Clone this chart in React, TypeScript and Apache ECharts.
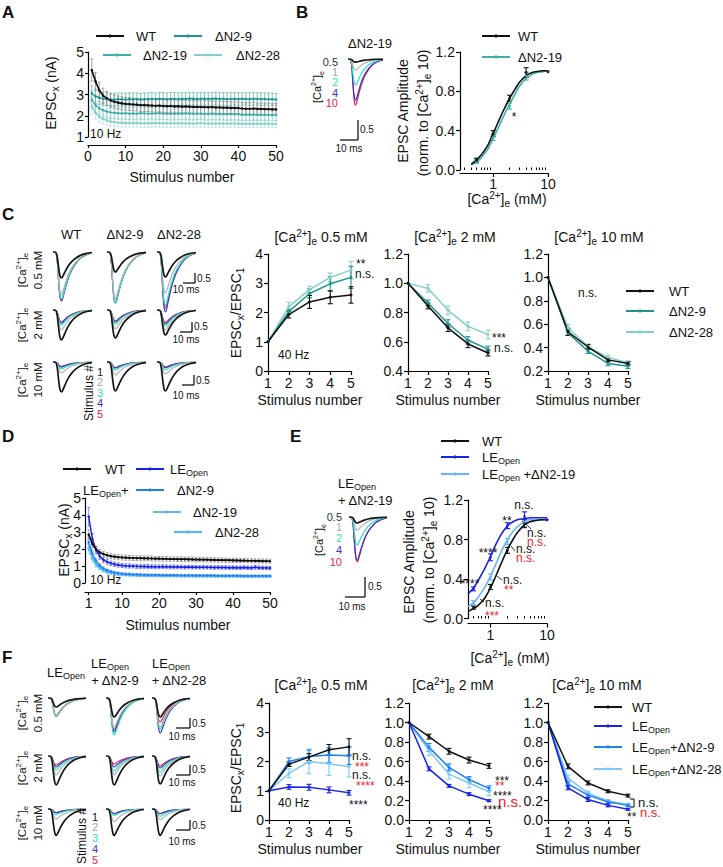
import React, { useEffect, useRef } from "react";
import * as echarts from "echarts";

const FONT = '"Liberation Sans", Arial, Helvetica, sans-serif';

// ---------------- Panel A : 10 Hz trains (nA) ----------------
const STIM50 = Array.from({ length: 50 }, (_, i) => i + 1);
const A_WT = [4.15,3.62,3.2,2.95,2.82,2.72,2.66,2.62,2.58,2.56, 2.55,2.53,2.52,2.5,2.5,2.49,2.48,2.47,2.48,2.46, 2.45,2.46,2.44,2.45,2.43,2.44,2.43,2.42,2.42,2.41, 2.41,2.4,2.41,2.39,2.39,2.38,2.38,2.37,2.37,2.36, 2.34,2.33,2.33,2.34,2.32,2.32,2.31,2.31,2.3,2.3];
const A_WT_ERR = [0.52,0.42,0.38,0.35,0.33,0.32,0.32,0.31,0.31,0.3, 0.3,0.3,0.29,0.3,0.3,0.29,0.3,0.3,0.29,0.3, 0.3,0.29,0.3,0.3,0.29,0.3,0.29,0.3,0.29,0.29, 0.3,0.29,0.29,0.3,0.29,0.29,0.28,0.29,0.29,0.28, 0.29,0.28,0.28,0.29,0.28,0.28,0.28,0.28,0.27,0.28];
const A_N9 = [3.05,2.92,2.85,2.8,2.78,2.77,2.76,2.78,2.77,2.76, 2.78,2.77,2.78,2.76,2.77,2.78,2.79,2.78,2.8,2.79, 2.78,2.8,2.79,2.78,2.8,2.79,2.81,2.8,2.79,2.8, 2.8,2.79,2.8,2.81,2.79,2.8,2.78,2.79,2.8,2.78, 2.8,2.79,2.78,2.8,2.79,2.78,2.79,2.77,2.78,2.76];
const A_N9_ERR = [0.35,0.33,0.31,0.3,0.3,0.29,0.3,0.29,0.3,0.3, 0.29,0.3,0.3,0.29,0.3,0.3,0.3,0.29,0.3,0.3, 0.29,0.3,0.3,0.3,0.29,0.3,0.3,0.3,0.29,0.3, 0.3,0.29,0.3,0.3,0.3,0.29,0.3,0.3,0.29,0.3, 0.3,0.29,0.3,0.3,0.29,0.3,0.29,0.3,0.29,0.29];
const A_N19 = [2.75,2.5,2.35,2.26,2.2,2.16,2.14,2.12,2.11,2.12, 2.1,2.11,2.1,2.12,2.11,2.1,2.1,2.11,2.12,2.1, 2.11,2.1,2.09,2.1,2.1,2.11,2.1,2.09,2.1,2.1, 2.08,2.09,2.1,2.08,2.09,2.08,2.07,2.08,2.08,2.07, 2.05,2.06,2.05,2.06,2.05,2.04,2.05,2.04,2.03,2.04];
const A_N19_ERR = [0.4,0.36,0.33,0.31,0.3,0.3,0.29,0.29,0.3,0.29, 0.29,0.3,0.29,0.29,0.3,0.29,0.29,0.3,0.29,0.29, 0.29,0.3,0.29,0.29,0.29,0.3,0.29,0.29,0.29,0.29, 0.28,0.29,0.29,0.28,0.29,0.28,0.28,0.29,0.28,0.28, 0.28,0.28,0.28,0.27,0.28,0.28,0.27,0.28,0.27,0.27];
const A_N28 = [2.45,2.15,1.95,1.85,1.78,1.73,1.7,1.68,1.67,1.66, 1.66,1.65,1.66,1.65,1.64,1.65,1.65,1.66,1.65,1.64, 1.65,1.64,1.65,1.64,1.65,1.64,1.64,1.63,1.64,1.65, 1.64,1.63,1.64,1.64,1.63,1.64,1.63,1.63,1.64,1.63, 1.62,1.63,1.62,1.63,1.62,1.62,1.63,1.62,1.62,1.61];
const A_N28_ERR = [0.38,0.3,0.26,0.24,0.22,0.21,0.21,0.2,0.2,0.2, 0.2,0.19,0.2,0.2,0.19,0.2,0.2,0.19,0.2,0.19, 0.2,0.19,0.2,0.19,0.19,0.2,0.19,0.19,0.2,0.19, 0.19,0.19,0.19,0.18,0.19,0.19,0.18,0.19,0.18,0.19, 0.18,0.18,0.18,0.18,0.18,0.18,0.18,0.17,0.18,0.18];

// ---------------- Panel B : Ca dependence ----------------
const B_CONC = [0.5, 1, 2, 4, 10];
const B_WT = [0.1, 0.37, 0.73, 0.99, 1.0];
const B_WT_ERR = [0.02, 0.03, 0.03, 0.05, 0];
const B_N19 = [0.09, 0.33, 0.65, 0.955, 1.0];
const B_N19_ERR = [0.02, 0.03, 0.03, 0.04, 0];
const B_FIT_X = [0.4, 0.5, 0.6, 0.7, 0.8, 1, 1.2, 1.5, 2, 2.5, 3, 4, 5, 6, 8, 10];
const B_FIT_WT = [0.06, 0.1, 0.15, 0.2, 0.25, 0.37, 0.47, 0.59, 0.73, 0.82, 0.89, 0.96, 0.99, 1.0, 1.01, 1.01];
const B_FIT_N19 = [0.05, 0.08, 0.12, 0.17, 0.21, 0.32, 0.41, 0.53, 0.67, 0.77, 0.85, 0.93, 0.97, 0.99, 1.0, 1.01];
const B_TRACE_AMP = [0.08, 0.28, 0.65, 1.03, 1.15];

// ---------------- Panel C : 40 Hz, 5 pulses ----------------
const X5 = [1, 2, 3, 4, 5];
const C05_WT = [1, 1.93, 2.36, 2.52, 2.6];
const C05_WT_ERR = [0, 0.12, 0.22, 0.22, 0.28];
const C05_N9 = [1, 2.03, 2.65, 2.98, 3.2];
const C05_N9_ERR = [0, 0.08, 0.15, 0.25, 0.38];
const C05_N28 = [1, 2.2, 2.78, 3.2, 3.45];
const C05_N28_ERR = [0, 0.15, 0.12, 0.15, 0.3];
const C2_WT = [1, 0.845, 0.695, 0.585, 0.523];
const C2_WT_ERR = [0, 0.02, 0.025, 0.025, 0.02];
const C2_N9 = [1, 0.865, 0.725, 0.61, 0.55];
const C2_N9_ERR = [0, 0.02, 0.025, 0.025, 0.02];
const C2_N28 = [1, 0.965, 0.815, 0.705, 0.65];
const C2_N28_ERR = [0, 0.025, 0.03, 0.03, 0.03];
const C10_WT = [1, 0.535, 0.405, 0.295, 0.265];
const C10_WT_ERR = [0, 0.03, 0.02, 0.015, 0.015];
const C10_N9 = [1, 0.525, 0.37, 0.265, 0.24];
const C10_N9_ERR = [0, 0.02, 0.02, 0.02, 0.02];
const C10_N28 = [1, 0.57, 0.41, 0.315, 0.27];
const C10_N28_ERR = [0, 0.03, 0.02, 0.02, 0.015];
// trace peak amplitudes (nA), rows = 0.5 / 2 / 10 mM, cols = WT / ΔN2-9 / ΔN2-28, stim 1..5
const C_TRACES = [
  [[1.3, 2.1, 2.35, 2.4, 2.45], [1.0, 2.3, 2.55, 2.5, 2.55], [1.25, 2.05, 2.65, 3.0, 2.8]],
  [[1.5, 1.0, 0.75, 0.65, 0.6], [1.4, 0.95, 0.7, 0.6, 0.55], [1.25, 1.0, 0.8, 0.7, 0.62]],
  [[1.5, 0.55, 0.35, 0.25, 0.22], [1.45, 0.65, 0.4, 0.3, 0.28], [1.45, 0.6, 0.38, 0.28, 0.25]],
];

// ---------------- Panel D : 10 Hz trains, LE_Open ----------------
const D_WT = [2.85,2.3,1.98,1.8,1.7,1.63,1.58,1.55,1.52,1.5, 1.49,1.48,1.47,1.46,1.46,1.45,1.45,1.44,1.43,1.43, 1.42,1.42,1.41,1.41,1.4,1.4,1.4,1.39,1.39,1.38, 1.38,1.37,1.37,1.36,1.36,1.35,1.35,1.34,1.34,1.33, 1.33,1.32,1.32,1.31,1.31,1.3,1.3,1.29,1.29,1.28];
const D_WT_ERR = [0.3,0.22,0.19,0.17,0.16,0.16,0.15,0.15,0.15,0.15, 0.15,0.14,0.15,0.14,0.15,0.14,0.14,0.15,0.14,0.14, 0.14,0.14,0.14,0.13,0.14,0.14,0.13,0.14,0.13,0.14, 0.13,0.13,0.14,0.13,0.13,0.13,0.13,0.13,0.12,0.13, 0.13,0.12,0.13,0.12,0.12,0.12,0.12,0.12,0.12,0.12];
const D_LE = [3.9,2.6,1.92,1.56,1.36,1.24,1.16,1.1,1.06,1.03, 1.01,1.0,0.99,0.98,0.97,0.97,0.96,0.96,0.95,0.95, 0.96,0.95,0.94,0.95,0.94,0.94,0.93,0.94,0.93,0.93, 0.92,0.93,0.92,0.92,0.91,0.92,0.91,0.91,0.9,0.91, 0.9,0.9,0.91,0.9,0.89,0.93,0.9,0.89,0.89,0.88];
const D_LE_ERR = [0.55,0.32,0.22,0.17,0.15,0.14,0.13,0.13,0.12,0.12, 0.12,0.12,0.11,0.12,0.11,0.11,0.12,0.11,0.11,0.11, 0.11,0.11,0.11,0.11,0.1,0.11,0.11,0.1,0.11,0.1, 0.1,0.11,0.1,0.1,0.1,0.1,0.1,0.1,0.1,0.1, 0.1,0.1,0.1,0.1,0.1,0.12,0.1,0.1,0.1,0.1];
const D_N9 = [2.4,1.72,1.3,1.02,0.85,0.74,0.67,0.62,0.58,0.55, 0.53,0.52,0.5,0.5,0.49,0.48,0.48,0.47,0.47,0.47, 0.46,0.46,0.46,0.46,0.45,0.45,0.45,0.45,0.45,0.44, 0.44,0.44,0.44,0.44,0.44,0.43,0.43,0.43,0.43,0.43, 0.43,0.43,0.42,0.42,0.42,0.42,0.42,0.42,0.42,0.42];
const D_N9_ERR = [0.3,0.2,0.15,0.12,0.1,0.09,0.08,0.08,0.07,0.07, 0.07,0.07,0.06,0.06,0.06,0.06,0.06,0.06,0.06,0.06, 0.06,0.06,0.06,0.06,0.06,0.06,0.05,0.06,0.05,0.06, 0.05,0.05,0.06,0.05,0.05,0.05,0.05,0.05,0.05,0.05, 0.05,0.05,0.05,0.05,0.05,0.05,0.05,0.05,0.05,0.05];
const D_N19 = [2.3,1.6,1.18,0.93,0.78,0.68,0.61,0.56,0.53,0.5, 0.49,0.47,0.46,0.45,0.45,0.44,0.44,0.43,0.43,0.43, 0.42,0.42,0.42,0.42,0.42,0.41,0.41,0.41,0.41,0.41, 0.41,0.4,0.4,0.4,0.4,0.4,0.4,0.4,0.4,0.4, 0.39,0.39,0.39,0.39,0.39,0.39,0.39,0.39,0.39,0.39];
const D_N19_ERR = [0.35,0.22,0.16,0.12,0.1,0.09,0.08,0.07,0.07,0.07, 0.06,0.06,0.06,0.06,0.06,0.06,0.06,0.06,0.06,0.06, 0.06,0.06,0.05,0.06,0.05,0.06,0.05,0.05,0.05,0.05, 0.05,0.05,0.05,0.05,0.05,0.05,0.05,0.05,0.05,0.05, 0.05,0.05,0.05,0.05,0.05,0.05,0.05,0.05,0.05,0.05];
const D_N28 = [2.0,1.42,1.06,0.86,0.73,0.64,0.58,0.54,0.51,0.49, 0.47,0.46,0.45,0.44,0.44,0.43,0.43,0.42,0.42,0.42, 0.41,0.41,0.41,0.41,0.41,0.4,0.4,0.4,0.4,0.4, 0.4,0.4,0.39,0.39,0.39,0.39,0.39,0.39,0.39,0.39, 0.38,0.38,0.38,0.38,0.38,0.38,0.38,0.38,0.38,0.38];
const D_N28_ERR = [0.3,0.2,0.14,0.11,0.09,0.08,0.07,0.07,0.06,0.06, 0.06,0.06,0.06,0.05,0.06,0.05,0.05,0.05,0.05,0.05, 0.05,0.05,0.05,0.05,0.05,0.05,0.05,0.05,0.05,0.05, 0.05,0.05,0.05,0.05,0.05,0.05,0.05,0.05,0.05,0.05, 0.05,0.05,0.05,0.05,0.05,0.05,0.05,0.05,0.05,0.05];

// ---------------- Panel E : Ca dependence, LE_Open ----------------
const E_CONC = [0.5, 1, 2, 4, 10];
const E_WT = [0.11, 0.32, 0.69, 0.96, 1.0];
const E_WT_ERR = [0.015, 0.025, 0.03, 0.04, 0];
const E_LE = [0.3, 0.62, 0.94, 1.03, 1.0];
const E_LE_ERR = [0.02, 0.035, 0.03, 0.05, 0];
const E_N19 = [0.16, 0.42, 0.78, 0.97, 1.0];
const E_N19_ERR = [0.02, 0.03, 0.03, 0.04, 0];
const E_FIT_X = [0.4, 0.5, 0.6, 0.7, 0.8, 1, 1.2, 1.5, 2, 2.5, 3, 4, 5, 6, 8, 10];
const E_FIT_WT = [0.07, 0.1, 0.13, 0.17, 0.21, 0.31, 0.41, 0.54, 0.7, 0.8, 0.87, 0.95, 0.98, 0.99, 1.0, 1.0];
const E_FIT_LE = [0.25, 0.31, 0.38, 0.45, 0.51, 0.63, 0.73, 0.84, 0.94, 0.98, 1.0, 1.01, 1.02, 1.02, 1.02, 1.02];
const E_FIT_N19 = [0.12, 0.16, 0.21, 0.27, 0.32, 0.43, 0.53, 0.66, 0.8, 0.88, 0.93, 0.98, 1.0, 1.0, 1.0, 1.0];
const E_TRACE_AMP = [0.15, 0.33, 0.7, 1.08, 1.12];

// ---------------- Panel F : 40 Hz, LE_Open ----------------
const F05_WT = [1, 1.91, 2.15, 2.4, 2.5];
const F05_WT_ERR = [0, 0.08, 0.12, 0.18, 0.28];
const F05_LE = [1, 1.13, 1.12, 1.03, 0.93];
const F05_LE_ERR = [0, 0.08, 0.1, 0.1, 0.08];
const F05_N9 = [1, 2.0, 2.17, 2.22, 2.2];
const F05_N9_ERR = [0, 0.12, 0.22, 0.25, 0.3];
const F05_N28 = [1, 1.6, 2.0, 1.92, 1.82];
const F05_N28_ERR = [0, 0.15, 0.42, 0.4, 0.35];
const F2_WT = [1, 0.855, 0.705, 0.615, 0.555];
const F2_WT_ERR = [0, 0.025, 0.03, 0.03, 0.025];
const F2_LE = [1, 0.525, 0.35, 0.265, 0.198];
const F2_LE_ERR = [0, 0.02, 0.015, 0.015, 0.01];
const F2_N9 = [1, 0.745, 0.54, 0.415, 0.325];
const F2_N9_ERR = [0, 0.04, 0.035, 0.03, 0.025];
const F2_N28 = [1, 0.71, 0.47, 0.38, 0.29];
const F2_N28_ERR = [0, 0.05, 0.05, 0.05, 0.04];
const F10_WT = [1, 0.55, 0.38, 0.295, 0.25];
const F10_WT_ERR = [0, 0.025, 0.02, 0.015, 0.015];
const F10_LE = [1, 0.33, 0.21, 0.15, 0.11];
const F10_LE_ERR = [0, 0.02, 0.02, 0.015, 0.01];
const F10_N9 = [1, 0.37, 0.255, 0.185, 0.15];
const F10_N9_ERR = [0, 0.02, 0.02, 0.015, 0.012];
const F10_N28 = [1, 0.43, 0.275, 0.195, 0.16];
const F10_N28_ERR = [0, 0.03, 0.02, 0.015, 0.012];
const F_TRACES = [
  [[0.45, 0.95, 0.9, 0.88, 0.92], [0.95, 1.45, 1.85, 1.7, 1.6], [0.95, 1.45, 1.55, 1.75, 1.2]],
  [[1.45, 0.95, 0.7, 0.55, 0.45], [1.45, 0.95, 0.75, 0.55, 0.4], [1.4, 1.0, 0.8, 0.6, 0.5]],
  [[1.45, 0.55, 0.3, 0.2, 0.2], [1.45, 0.7, 0.35, 0.25, 0.25], [1.45, 0.6, 0.4, 0.25, 0.25]],
];

// normalised EPSC waveform (time 0..1, peak = -1)
const TRACE_T = [0, 0.05, 0.1, 0.14, 0.18, 0.22, 0.27, 0.33, 0.4, 0.48, 0.58, 0.7, 0.84, 1.0];
const TRACE_SHAPE = [0, 0, -0.12, -0.55, -0.92, -1, -0.88, -0.7, -0.52, -0.37, -0.24, -0.13, -0.06, -0.02];

const STIM_COLORS = ["#151515", "#b3b3b3", "#2ae3bd", "#3b36c4", "#e5235b"];
const COL = {
  wt: "#111111",
  n9: "#1e968d",
  n19: "#3eafa7",
  n28: "#86cfc9",
  le: "#1a22e8",
  le9: "#1f80f0",
  le19: "#66b6f6",
  le28: "#45bdf5",
  f28: "#7fc8f7",
  red: "#ec1c2a",
};

function buildOption() {
  const grids: any[] = [];
  const xAxes: any[] = [];
  const yAxes: any[] = [];
  const series: any[] = [];
  const legends: any[] = [];
  const G: any[] = [];

  const grid = (rect: any, xa: any, ya: any) => {
    const gi = grids.length;
    grids.push({ ...rect, containLabel: false });
    const xi = xAxes.length;
    xAxes.push({ gridIndex: gi, ...xa });
    const yi = yAxes.length;
    yAxes.push({ gridIndex: gi, ...ya });
    return { gi, xi, yi };
  };
  const axLine = { show: true, onZero: false, lineStyle: { color: "#000", width: 1.2 } };
  const vAx = (o: any) => ({
    type: "value",
    min: o.min,
    max: o.max,
    interval: o.interval,
    offset: o.offset || 0,
    axisLine: axLine,
    axisTick: { show: true, length: o.tick ?? 4, lineStyle: { color: "#000", width: 1.2 }, ...(o.tickValues ? { customValues: o.tickValues } : {}) },
    axisLabel: { show: true, color: "#111", fontSize: 14, fontFamily: FONT, margin: o.margin ?? 5, ...(o.fmt ? { formatter: o.fmt } : {}), ...(o.labelValues ? { customValues: o.labelValues } : {}) },
    splitLine: { show: false },
  });
  const logAx = (o: any) => ({
    type: "log",
    logBase: 10,
    min: o.min,
    max: o.max,
    offset: o.offset || 0,
    axisLine: axLine,
    axisTick: { show: true, length: 4, lineStyle: { color: "#000", width: 1.2 }, customValues: [1, 10] },
    axisLabel: { show: true, color: "#111", fontSize: 14, fontFamily: FONT, margin: 4, customValues: [1, 10], formatter: (v: number) => String(Math.round(v)) },
    splitLine: { show: false },
  });
  const minorLog = (gi: number, o: any) =>
    xAxes.push({
      gridIndex: gi, type: "log", logBase: 10, min: o.min, max: o.max, offset: o.offset || 0,
      axisLine: { show: false },
      axisTick: { show: true, length: 2.5, lineStyle: { color: "#000", width: 1 }, customValues: o.ticks },
      axisLabel: { show: false }, splitLine: { show: false },
    });
  const hidden = (min: number, max: number) => ({ type: "value", min, max, show: false });
  const fmt1 = (v: number) => v.toFixed(1);

  const errRender = (color: string, cap: number, lw: number) => (params: any, api: any) => {
    const x = api.value(0);
    const y = api.value(1);
    const e = api.value(2);
    if (!e) return { type: "group", children: [] };
    const p1 = api.coord([x, y + e]);
    const p2 = api.coord([x, y - e]);
    const st = { stroke: color, lineWidth: lw };
    return {
      type: "group",
      children: [
        { type: "line", shape: { x1: p1[0], y1: p1[1], x2: p2[0], y2: p2[1] }, style: st },
        { type: "line", shape: { x1: p1[0] - cap, y1: p1[1], x2: p1[0] + cap, y2: p1[1] }, style: st },
        { type: "line", shape: { x1: p2[0] - cap, y1: p2[1], x2: p2[0] + cap, y2: p2[1] }, style: st },
      ],
    };
  };
  const errS = (ax: any, xs: number[], ys: number[], es: number[], color: string, cap = 2.5, lw = 1.1) =>
    series.push({
      type: "custom", xAxisIndex: ax.xi, yAxisIndex: ax.yi,
      data: xs.map((x, i) => [x, ys[i], es[i]]), encode: { x: 0, y: 1 },
      renderItem: errRender(color, cap, lw), silent: true, z: 2, clip: false,
    });
  const lineS = (name: string, ax: any, xs: number[], ys: number[], color: string, o: any = {}) =>
    series.push({
      type: "line", name, xAxisIndex: ax.xi, yAxisIndex: ax.yi,
      data: xs.map((x, i) => [x, ys[i]]),
      symbol: o.symbol ?? "circle", symbolSize: o.ss ?? 3, showSymbol: o.symbol !== "none",
      smooth: o.smooth ?? false, lineStyle: { color, width: o.lw ?? 1.5 }, itemStyle: { color },
      silent: true, z: o.z ?? 3, clip: false,
    });
  const dotS = (ax: any, xs: number[], ys: number[], color: string) =>
    series.push({
      type: "scatter", xAxisIndex: ax.xi, yAxisIndex: ax.yi, data: xs.map((x, i) => [x, ys[i]]),
      symbolSize: 3, itemStyle: { color }, silent: true, z: 4,
    });
  const traceGroup = (left: number, top: number, width: number, pxPerNA: number, amps: number[]) => {
    const h = 64;
    const ax = grid({ left, top, width, height: h }, hidden(0, 1), hidden(-h / pxPerNA, 0));
    for (let k = amps.length - 1; k >= 0; k--) {
      series.push({
        type: "line", xAxisIndex: ax.xi, yAxisIndex: ax.yi,
        data: TRACE_T.map((t, i) => [t, TRACE_SHAPE[i] * amps[k]]),
        symbol: "none", smooth: 0.35, silent: true, z: 2,
        lineStyle: { color: STIM_COLORS[k], width: k === 0 ? 1.7 : 1.2 },
      });
    }
  };
  const legRich = { sub: { fontSize: 9, lineHeight: 8, verticalAlign: "bottom", fontFamily: FONT, color: "#111" } };
  const addLeg = (name: string, label: string, x: number, y: number, pad: number) =>
    legends.push({
      data: [name], left: x, top: y - 8, padding: 0, itemWidth: 28, itemHeight: 4, itemGap: 0,
      selectedMode: false, formatter: () => label,
      textStyle: { fontSize: 13, fontFamily: FONT, color: "#111", lineHeight: 16, padding: [0, 0, 0, pad], rich: legRich },
    });

  const RICH = (s: number) => ({
    sup: { fontSize: Math.round(s * 0.68), lineHeight: 8, verticalAlign: "top", fontFamily: FONT },
    sub: { fontSize: Math.round(s * 0.68), lineHeight: 8, verticalAlign: "bottom", fontFamily: FONT },
  });
  const T = (x: number, y: number, text: string, o: any = {}) => {
    const s = o.size ?? 14;
    G.push({
      type: "text", x, y, rotation: o.rot ? Math.PI / 2 : 0, silent: true, z: 100,
      style: {
        legacy: false, text, fill: o.color ?? "#111", fontSize: s, fontFamily: FONT,
        fontWeight: o.weight ?? "normal", align: o.align ?? "center", verticalAlign: "middle",
        lineHeight: s + 4, rich: RICH(s),
      },
    });
  };
  const L = (x1: number, y1: number, x2: number, y2: number, w = 1.2) =>
    G.push({ type: "line", shape: { x1, y1, x2, y2 }, style: { stroke: "#000", lineWidth: w }, silent: true, z: 100 });
  const CA = "[Ca{sup|2+}]{sub|e}";

  // ================= A =================
  const aAx = grid({ left: 88, top: 52, width: 188, height: 85 },
    vAx({ min: 0, max: 50, interval: 10, offset: 8, tick: 3, margin: 4 }),
    vAx({ min: 1, max: 5, interval: 1, tick: 3, margin: 4 }));
  const aSets: any[] = [
    ["A|ΔN2-28", A_N28, A_N28_ERR, COL.n28, "#b9e4e0"],
    ["A|ΔN2-19", A_N19, A_N19_ERR, COL.n19, "#86ccc6"],
    ["A|ΔN2-9", A_N9, A_N9_ERR, COL.n9, "#5fb8b0"],
    ["A|WT", A_WT, A_WT_ERR, COL.wt, "#8c8c8c"],
  ];
  aSets.forEach(([, ys, es, , ec]) => errS(aAx, STIM50, ys, es, ec, 1.5, 0.8));
  aSets.forEach(([n, ys, , c]) => lineS(n, aAx, STIM50, ys, c, { ss: 2.5, lw: n === "A|WT" ? 1.7 : 1.4 }));
  addLeg("A|WT", "WT", 95, 36, 7);
  addLeg("A|ΔN2-9", "ΔN2-9", 173, 36, 8);
  addLeg("A|ΔN2-19", "ΔN2-19", 102, 55, 7);
  addLeg("A|ΔN2-28", "ΔN2-28", 193, 55, 9);
  T(51, 93, "EPSC{sub|x} (nA)", { rot: true });
  T(182, 177, "Stimulus number");
  T(90, 134, "10 Hz", { align: "left", size: 12 });

  // ================= B =================
  traceGroup(348, 59, 35, 40, B_TRACE_AMP);
  T(370, 43, "ΔN2-19", { size: 13 });
  [["0.5", 62], ["1", 72], ["2", 82], ["4", 93], ["10", 103]].forEach(([t, y]: any, i) =>
    T(338, y, t, { align: "right", size: 11, color: i === 0 ? "#333" : i === 1 ? "#a8a8a8" : STIM_COLORS[i] }));
  T(317, 87, CA, { rot: true, size: 11 });
  L(358, 120, 358, 140); L(340, 140, 358, 140);
  T(360, 129, "0.5", { align: "left", size: 10 });
  T(349, 148, "10 ms", { size: 10 });

  const bAx = grid({ left: 460, top: 52, width: 88, height: 118 },
    logAx({ min: 0.25, max: 10, offset: 3 }),
    vAx({ min: 0, max: 1.2, interval: 0.4, fmt: fmt1 }));
  minorLog(bAx.gi, { min: 0.25, max: 10, offset: 3, ticks: [0.3, 0.4, 0.5, 0.6, 0.7, 0.8, 0.9, 2, 3, 4, 5, 6, 7, 8, 9] });
  errS(bAx, B_CONC, B_N19, B_N19_ERR, COL.n19);
  errS(bAx, B_CONC, B_WT, B_WT_ERR, COL.wt);
  lineS("B|ΔN2-19", bAx, B_FIT_X, B_FIT_N19, COL.n19, { symbol: "none", smooth: 0.3, lw: 1.6 });
  lineS("B|WT", bAx, B_FIT_X, B_FIT_WT, COL.wt, { symbol: "none", smooth: 0.3, lw: 1.6 });
  dotS(bAx, B_CONC, B_N19, COL.n19);
  dotS(bAx, B_CONC, B_WT, COL.wt);
  addLeg("B|WT", "WT", 481, 36, 3);
  addLeg("B|ΔN2-19", "ΔN2-19", 481, 57, 3);
  T(403, 111, "EPSC Amplitude", { rot: true });
  T(423, 113, "(norm. to " + CA + " 10)", { rot: true });
  T(507, 199, CA + " (mM)");
  T(514, 117, "*", { size: 12 });

  // ================= C =================
  const cTitles = ["WT", "ΔN2-9", "ΔN2-28"];
  [71, 125, 179].forEach((x, i) => T(x, 234, cTitles[i], { size: 13 }));
  const cLeft = [53, 107, 157];
  const cTop = [252, 310, 362];
  C_TRACES.forEach((row, r) => row.forEach((amps, c) => traceGroup(cLeft[c], cTop[r], 39, 20, amps)));
  const cRows = ["0.5 mM", "2 mM", "10 mM"];
  [270, 325, 380].forEach((y, i) => { T(22, y, CA, { rot: true, size: 11.5 }); T(38, y, cRows[i], { rot: true, size: 11.5 }); });
  // scale bars
  L(195, 273, 195, 283); L(183, 283, 195, 283); T(197, 278, "0.5", { align: "left", size: 10 }); T(186, 289, "10 ms", { size: 10 });
  L(192, 322, 192, 332); L(180, 332, 192, 332); T(194, 326, "0.5", { align: "left", size: 10 }); T(186, 339, "10 ms", { size: 10 });
  L(194, 375, 194, 385); L(182, 385, 194, 385); T(196, 380, "0.5", { align: "left", size: 10 }); T(186, 395, "10 ms", { size: 10 });
  T(89, 393, "Stimulus #", { rot: true, size: 12 });
  [372, 382, 392.5, 403, 413.5].forEach((y, i) => T(100, y, String(i + 1), { size: 11, color: i === 1 ? "#a8a8a8" : STIM_COLORS[i] }));

  const xStim = (o: any = {}) => vAx({ min: 1, max: 5, interval: 1, ...o });
  const c1 = grid({ left: 268, top: 254, width: 83, height: 117 }, xStim(), vAx({ min: 0, max: 4, interval: 1 }));
  const c2 = grid({ left: 408, top: 254, width: 80, height: 117 }, xStim(), vAx({ min: 0.4, max: 1.2, interval: 0.2, fmt: fmt1 }));
  const c3 = grid({ left: 548, top: 254, width: 80, height: 117 }, xStim(), vAx({ min: 0.2, max: 1.2, interval: 0.2, fmt: fmt1 }));
  const cSets: any[] = [
    [c1, "C1", C05_WT, C05_WT_ERR, C05_N9, C05_N9_ERR, C05_N28, C05_N28_ERR],
    [c2, "C2", C2_WT, C2_WT_ERR, C2_N9, C2_N9_ERR, C2_N28, C2_N28_ERR],
    [c3, "C3", C10_WT, C10_WT_ERR, C10_N9, C10_N9_ERR, C10_N28, C10_N28_ERR],
  ];
  cSets.forEach(([ax, p, wt, wte, n9, n9e, n28, n28e]) => {
    errS(ax, X5, n28, n28e, COL.n28); errS(ax, X5, n9, n9e, COL.n9); errS(ax, X5, wt, wte, COL.wt);
    lineS(p + "|ΔN2-28", ax, X5, n28, COL.n28);
    lineS(p + "|ΔN2-9", ax, X5, n9, COL.n9);
    lineS(p + "|WT", ax, X5, wt, COL.wt);
  });
  addLeg("C3|WT", "WT", 625, 291, 10);
  addLeg("C3|ΔN2-9", "ΔN2-9", 625, 311, 10);
  addLeg("C3|ΔN2-28", "ΔN2-28", 625, 332, 10);
  T(321, 237, CA + " 0.5 mM");
  T(455, 237, CA + " 2 mM");
  T(599, 237, CA + " 10 mM");
  T(236, 313, "EPSC{sub|x}/EPSC{sub|1}", { rot: true });
  [310, 448, 588].forEach((x) => T(x, 400, "Stimulus number"));
  T(278, 355, "40 Hz", { align: "left", size: 12 });
  T(356, 264, "**", { align: "left", size: 12 });
  T(355, 274, "n.s.", { align: "left", size: 12 });
  T(492, 338, "***", { align: "left", size: 12 });
  T(494, 348, "n.s.", { align: "left", size: 12 });
  T(578, 293, "n.s.", { align: "left", size: 12 });

  // ================= D =================
  const dAx = grid({ left: 85, top: 498, width: 185, height: 85 },
    vAx({ min: 0, max: 50, interval: 10, offset: 9, tick: 3, margin: 4, labelValues: [1, 10, 20, 30, 40, 50], tickValues: [1, 10, 20, 30, 40, 50] }),
    vAx({ min: 0, max: 5, interval: 1, tick: 3, margin: 4 }));
  const dSets: any[] = [
    ["D|ΔN2-28", D_N28, D_N28_ERR, COL.le28, "#a6dcf8"],
    ["D|ΔN2-19", D_N19, D_N19_ERR, COL.le19, "#b0d6f8"],
    ["D|ΔN2-9", D_N9, D_N9_ERR, COL.le9, "#7fb5f3"],
    ["D|LE", D_LE, D_LE_ERR, COL.le, "#6a6ff0"],
    ["D|WT", D_WT, D_WT_ERR, COL.wt, "#9a9a9a"],
  ];
  dSets.forEach(([, ys, es, , ec]) => errS(dAx, STIM50, ys, es, ec, 1.5, 0.8));
  dSets.forEach(([n, ys, , c]) => lineS(n, dAx, STIM50, ys, c, { ss: 2.5, lw: n === "D|WT" ? 1.7 : 1.4 }));
  addLeg("D|WT", "WT", 62, 469, 9);
  addLeg("D|LE", "LE{sub|Open}", 135, 469, 1);
  addLeg("D|ΔN2-9", "ΔN2-9", 135, 490, 8);
  addLeg("D|ΔN2-19", "ΔN2-19", 152, 512, 7);
  addLeg("D|ΔN2-28", "ΔN2-28", 173, 532, 8);
  T(83, 490, "LE{sub|Open}+", { align: "left", size: 13 });
  T(64, 540, "EPSC{sub|x} (nA)", { rot: true });
  T(178, 625, "Stimulus number");
  T(90, 580, "10 Hz", { align: "left", size: 12 });

  // ================= E =================
  T(338, 483, "LE{sub|Open}", { align: "left", size: 13 });
  T(338, 500, "+ ΔN2-19", { align: "left", size: 13 });
  traceGroup(349, 517, 38, 40, E_TRACE_AMP);
  [["0.5", 517], ["1", 527], ["2", 538], ["4", 550], ["10", 562]].forEach(([t, y]: any, i) =>
    T(342, y, t, { align: "right", size: 11, color: i === 0 ? "#333" : i === 1 ? "#a8a8a8" : STIM_COLORS[i] }));
  T(319, 540, CA, { rot: true, size: 11 });
  L(365, 577, 365, 597); L(345, 597, 365, 597);
  T(368, 586, "0.5", { align: "left", size: 10 });
  T(352, 606, "10 ms", { size: 10 });

  const eAx = grid({ left: 468, top: 500, width: 79, height: 118.5 },
    logAx({ min: 0.4, max: 10, offset: 5 }),
    vAx({ min: 0, max: 1.2, interval: 0.4, fmt: fmt1 }));
  minorLog(eAx.gi, { min: 0.4, max: 10, offset: 5, ticks: [0.4, 0.5, 0.6, 0.7, 0.8, 0.9, 2, 3, 4, 5, 6, 7, 8, 9] });
  errS(eAx, E_CONC, E_N19, E_N19_ERR, COL.le19);
  errS(eAx, E_CONC, E_WT, E_WT_ERR, COL.wt);
  errS(eAx, E_CONC, E_LE, E_LE_ERR, COL.le);
  lineS("E|LE19", eAx, E_FIT_X, E_FIT_N19, COL.le19, { symbol: "none", smooth: 0.3, lw: 1.6 });
  lineS("E|WT", eAx, E_FIT_X, E_FIT_WT, COL.wt, { symbol: "none", smooth: 0.3, lw: 1.6 });
  lineS("E|LE", eAx, E_FIT_X, E_FIT_LE, COL.le, { symbol: "none", smooth: 0.3, lw: 1.6 });
  dotS(eAx, E_CONC, E_N19, COL.le19);
  dotS(eAx, E_CONC, E_WT, COL.wt);
  dotS(eAx, E_CONC, E_LE, COL.le);
  addLeg("E|WT", "WT", 440, 441, 8);
  addLeg("E|LE", "LE{sub|Open}", 440, 457, 8);
  addLeg("E|LE19", "LE{sub|Open} +ΔN2-19", 440, 474, 8);
  T(409, 562, "EPSC Amplitude", { rot: true });
  T(429, 560, "(norm. to " + CA + " 10)", { rot: true });
  T(510, 658, CA + " (mM)");
  T(524, 505, "n.s.", { size: 12 });
  T(507, 521, "**", { size: 12 });
  T(488, 553, "****", { size: 12 });
  T(470, 584, "****", { size: 12 });
  T(527, 533, "n.s.", { align: "left", size: 12 });
  T(527, 542, "n.s.", { align: "left", size: 12, color: COL.red });
  T(516, 549, "n.s.", { align: "left", size: 12 });
  T(516, 558, "n.s.", { align: "left", size: 12, color: COL.red });
  T(503, 580, "n.s.", { align: "left", size: 12 });
  T(504, 590, "**", { align: "left", size: 12, color: COL.red });
  T(485, 603, "n.s.", { align: "left", size: 12 });
  T(485, 616, "***", { align: "left", size: 12, color: COL.red });
  L(526, 524, 531, 529, 0.8); L(511, 546, 515, 551, 0.8); L(497, 576, 502, 580, 0.8); L(480, 599, 484, 602, 0.8);

  // ================= F =================
  T(66, 672, "LE{sub|Open}", { size: 13 });
  T(110, 663, "LE{sub|Open}", { size: 13 });
  T(115, 680, "+ ΔN2-9", { size: 13 });
  T(171, 663, "LE{sub|Open}", { size: 13 });
  T(179, 680, "+ ΔN2-28", { size: 13 });
  const fLeft = [48, 106, 152];
  const fTop = [698, 756, 809];
  F_TRACES.forEach((row, r) => row.forEach((amps, c) => traceGroup(fLeft[c], fTop[r], 38, 20, amps)));
  [713, 768, 823].forEach((y, i) => { T(22, y, CA, { rot: true, size: 11.5 }); T(38, y, cRows[i], { rot: true, size: 11.5 }); });
  L(190, 718, 190, 728); L(176, 728, 190, 728); T(192, 723, "0.5", { align: "left", size: 10 }); T(182, 736, "10 ms", { size: 10 });
  L(190, 765, 190, 775); L(176, 775, 190, 775); T(192, 769, "0.5", { align: "left", size: 10 }); T(182, 782, "10 ms", { size: 10 });
  L(190, 820, 190, 830); L(176, 830, 190, 830); T(192, 825, "0.5", { align: "left", size: 10 }); T(182, 841, "10 ms", { size: 10 });
  T(82, 836, "Stimulus #", { rot: true, size: 12 });
  [817, 827, 838, 849, 860].forEach((y, i) => T(95, y, String(i + 1), { size: 11, color: i === 1 ? "#a8a8a8" : STIM_COLORS[i] }));

  const f1 = grid({ left: 269, top: 703, width: 80, height: 117 }, xStim(), vAx({ min: 0, max: 4, interval: 1 }));
  const f2 = grid({ left: 409, top: 703, width: 80, height: 117 }, xStim(), vAx({ min: 0, max: 1.2, interval: 0.2, fmt: fmt1 }));
  const f3 = grid({ left: 548, top: 703, width: 80, height: 117 }, xStim(), vAx({ min: 0, max: 1.2, interval: 0.2, fmt: fmt1 }));
  const fSets: any[] = [
    [f1, "F1", F05_WT, F05_WT_ERR, F05_LE, F05_LE_ERR, F05_N9, F05_N9_ERR, F05_N28, F05_N28_ERR],
    [f2, "F2", F2_WT, F2_WT_ERR, F2_LE, F2_LE_ERR, F2_N9, F2_N9_ERR, F2_N28, F2_N28_ERR],
    [f3, "F3", F10_WT, F10_WT_ERR, F10_LE, F10_LE_ERR, F10_N9, F10_N9_ERR, F10_N28, F10_N28_ERR],
  ];
  fSets.forEach(([ax, p, wt, wte, le, lee, n9, n9e, n28, n28e]) => {
    errS(ax, X5, n28, n28e, COL.f28); errS(ax, X5, n9, n9e, COL.le9); errS(ax, X5, le, lee, COL.le); errS(ax, X5, wt, wte, COL.wt);
    lineS(p + "|N28", ax, X5, n28, COL.f28);
    lineS(p + "|N9", ax, X5, n9, COL.le9);
    lineS(p + "|LE", ax, X5, le, COL.le);
    lineS(p + "|WT", ax, X5, wt, COL.wt);
  });
  addLeg("F3|WT", "WT", 593, 707, 5);
  addLeg("F3|LE", "LE{sub|Open}", 593, 726, 5);
  addLeg("F3|N9", "LE{sub|Open}+ΔN2-9", 593, 747, 5);
  addLeg("F3|N28", "LE{sub|Open}+ΔN2-28", 593, 769, 5);
  T(321, 685, CA + " 0.5 mM");
  T(453, 685, CA + " 2 mM");
  T(597, 685, CA + " 10 mM");
  T(236, 768, "EPSC{sub|x}/EPSC{sub|1}", { rot: true });
  [310, 448, 588].forEach((x) => T(x, 849, "Stimulus number"));
  T(278, 803, "40 Hz", { align: "left", size: 12 });
  T(352, 756, "n.s.", { align: "left", size: 12 });
  T(355, 767, "***", { align: "left", size: 12, color: COL.red });
  T(352, 775, "n.s.", { align: "left", size: 12 });
  T(356, 786, "****", { align: "left", size: 12, color: COL.red });
  T(349, 805, "****", { align: "left", size: 12 });
  T(495, 781, "***", { align: "left", size: 12 });
  T(495, 786, "**", { align: "left", size: 12, color: COL.red });
  T(493, 796, "****", { align: "left", size: 12 });
  T(498, 801, "n.s.", { align: "left", size: 15, color: COL.red });
  T(483, 810, "****", { align: "left", size: 12 });
  G.push({ type: "polyline", shape: { points: [[630, 799], [634, 799], [634, 807], [630, 807]] }, style: { stroke: "#000", fill: "none", lineWidth: 1 }, silent: true, z: 100 });
  T(638, 802, "n.s.", { align: "left", size: 13 });
  T(640, 812, "n.s.", { align: "left", size: 13, color: COL.red });
  T(627, 817, "**", { align: "left", size: 12 });

  // panel letters
  [["A", 2, 12], ["B", 296, 12], ["C", 2, 214], ["D", 2, 436], ["E", 290, 436], ["F", 2, 657]].forEach(([t, x, y]: any) =>
    T(x, y, t, { align: "left", size: 17, weight: "bold" }));

  return {
    animation: false,
    backgroundColor: "#ffffff",
    grid: grids,
    xAxis: xAxes,
    yAxis: yAxes,
    legend: legends,
    series,
    graphic: { elements: G },
  };
}

export default function App() {
  const ref = useRef<HTMLDivElement>(null);
  useEffect(() => {
    document.body.style.margin = "0";
    const chart = echarts.init(ref.current!, null, { renderer: "svg" });
    chart.setOption(buildOption() as any);
    return () => chart.dispose();
  }, []);
  return <div ref={ref} style={{ width: 723, height: 867 }} />;
}
